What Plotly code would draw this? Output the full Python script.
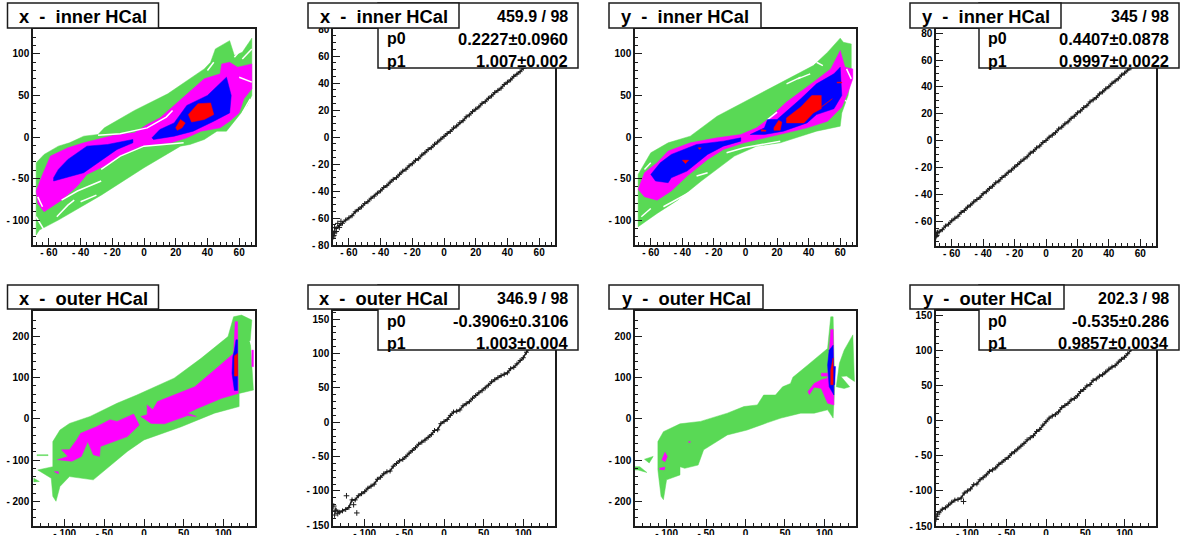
import plotly.graph_objects as go

W, H = 1188, 535
FONT = "Liberation Sans"
INK = "#1c1c1c"
GREEN, MAGENTA, BLUE, RED = "#59d955", "#ff00ff", "#0000ff", "#ff0000"

# ---------- contour regions (data units) ----------
A_GREEN = [[(-68,-31),(-63,-21),(-54,-11),(-47,-7),(-38,1),(-29,3),(-25,11),(-6,32),(15,52),(38,82),(42,90),(45,106),(54,116),(57,98),(62,102),(68,119),(68,86),(68,50),(65,38),(57,19),(52,7),(46,7),(38,-3),(29,-9),(23,-11),(0,-37),(-27,-70),(-54,-100),(-66,-112),(-68,-118)]]
A_MAGENTA = [[(-68,-65),(-64,-45),(-59,-23),(-48,-13),(-38,-7),(-27,-2),(-17,3),(-6,5),(2,15),(10,23),(19,38),(27,52),(38,70),(48,76),(49,88),(54,90),(59,84),(68,88),(68,58),(63,46),(60,29),(54,19),(48,11),(36,7),(27,-1),(17,-7),(8,-9),(-2,-11),(-13,-21),(-23,-33),(-36,-45),(-42,-59),(-52,-76),(-63,-90),(-67,-80)]]
A_BLUE = [[(-57,-49),(-54,-39),(-48,-27),(-36,-11),(-23,-9),(-7,-3),(-7,-7),(-17,-15),(-29,-31),(-38,-43),(-57,-53)],
          [(5,-1),(10,9),(19,17),(27,38),(40,50),(52,72),(55,50),(54,29),(44,19),(31,7),(19,1),(6,-3)]]
A_RED = [[(20,11),(23,21),(26,17),(24,11),(21,8)],
         [(28,27),(34,40),(42,41),(44,27),(38,21),(30,18)]]
A_WHITE = [[(-67,-72),(-64,-84)],[(-52,-76),(-42,-65),(-27,-53)],[(-55,-96),(-48,-82),(-44,-76)],
           [(-27,-39),(-15,-23),(0,-11),(25,-7)],[(-29,2),(-15,4),(2,11),(14,24),(18,32)],
           [(40,80),(44,90)],[(57,96),(66,116)],[(62,94),(68,106)],[(62,29),(67,46)],[(-68,-96),(-63,-112)],
           [(-40,-78),(-30,-70)],[(60,72),(68,66)]]

C_GREEN = [[(-68,-45),(-60,-19),(-49,-7),(-35,1),(-18,25),(3,46),(26,70),(43,86),(52,102),(60,119),(62,114),(67,112),(67,78),(65,50),(61,29),(60,13),(45,7),(35,1),(22,-7),(7,-11),(-7,-23),(-28,-53),(-43,-76),(-56,-92),(-68,-108)]]
C_MAGENTA = [[(-68,-63),(-64,-43),(-56,-31),(-49,-17),(-35,-7),(-18,-1),(-3,3),(7,11),(14,21),(26,42),(43,66),(54,82),(60,104),(63,84),(68,82),(68,70),(65,54),(61,36),(52,19),(39,11),(26,5),(12,-1),(-1,-7),(-14,-15),(-24,-27),(-37,-47),(-47,-65),(-56,-76),(-64,-72)]]
C_BLUE = [[(-60,-45),(-54,-31),(-47,-21),(-31,-9),(-14,-5),(-3,-1),(-3,-5),(-14,-11),(-24,-21),(-37,-41),(-47,-49),(-49,-55),(-57,-53)],
          [(3,3),(12,11),(14,21),(20,21),(35,46),(45,64),(56,76),(60,84),(61,50),(56,34),(45,27),(39,17),(24,7),(12,3)]]
C_RED = [[(26,23),(35,36),(42,50),(48,50),(48,34),(43,29),(37,17),(26,17)],[(48,36),(55,46),(49,38)],
         [(18,11),(21,20),(23,18),(22,8),(18,8)],[(-40,-28),(-36,-28),(-38,-32)],[(-30,-13),(-28,-13),(-29,-15)],
         [(10,9),(13,8),(13,7),(10,7)],[(58,66),(61,66),(61,65),(58,65)]]
C_WHITE = [[(14,21),(20,30)],[(33,70),(41,76)],[(45,90),(49,86)],[(26,64),(35,72)],[(-12,-19),(-1,-13),(22,-5)],
           [(-31,-47),(-24,-43)],[(-52,-84),(-28,-59)],[(-66,-96),(-60,-86)],[(64,82),(67,70)],[(63,44),(69,38)],[(-64,-39),(-60,-31)]]

E_GREEN = [[(-115,-55),(-106,-27),(-94,-11),(-68,6),(-34,38),(-9,58),(38,99),(72,147),(106,200),(113,248),(123,252),(136,240),(134,192),(138,70),(120,62),(120,30),(89,14),(47,-19),(0,-51),(-21,-79),(-64,-148),(-94,-140),(-106,-164),(-111,-200),(-115,-188),(-117,-144),(-134,-124),(-123,-120),(-115,-116)],
           [(-139,-144),(-132,-152),(-139,-153)],[(-135,-87),(-121,-87),(-121,-89),(-135,-89)]]
E_MAGENTA = [[(-109,-99),(-96,-91),(-104,-75),(-94,-75),(-85,-51),(-80,-35),(-60,-19),(-43,-2),(-34,-6),(-13,12),(-6,-15),(-21,-43),(-38,-55),(-55,-67),(-56,-91),(-64,-87),(-71,-55),(-79,-91),(-91,-103)],
             [(-4,6),(4,10),(4,34),(11,22),(17,42),(64,78),(94,127),(113,159),(115,236),(118,236),(119,62),(98,50),(68,26),(55,14),(66,6),(55,8),(26,-12),(9,-11)],
             [(-113,-128),(-108,-128),(-108,-133)],[(136,167),(138,167),(138,127),(136,127)]]
E_BLUE = [[(114,167),(116,192),(118,192),(118,69),(114,69),(111,111),(112,151)]]
E_RED = [[(114,153),(118,159),(118,104),(114,104)]]
E_WHITE = [[(134,190),(137,172)]]

G_GREEN = [[(-111,-55),(-104,-31),(-83,-12),(-57,-6),(-23,14),(-2,30),(15,34),(23,58),(38,58),(47,78),(57,86),(60,101),(79,131),(104,171),(108,248),(111,248),(113,78),(111,2),(104,22),(87,14),(70,14),(45,2),(28,-9),(2,-27),(-23,-39),(-53,-75),(-60,-112),(-77,-120),(-83,-116),(-83,-136),(-100,-148),(-104,-196),(-107,-188),(-111,-124)],
           [(115,78),(119,135),(125,167),(136,204),(138,91),(128,104),(121,103),(132,78),(125,74)],
           [(-128,-98),(-117,-91),(-122,-107)],[(-141,-116),(-134,-116),(-125,-130),(-136,-124),(-141,-124)]]
G_MAGENTA = [[(108,217),(111,217),(112,34),(104,38),(96,74),(87,77),(81,59),(79,66),(87,86),(96,95),(104,99)],
             [(96,111),(104,111),(104,104),(96,104)],[(-106,-99),(-102,-81),(-99,-91),(-102,-104)],
             [(-109,-120),(-102,-117),(-103,-124),(-109,-122)],[(-72,-55),(-70,-55),(-70,-57),(-72,-57)]]
G_BLUE = [[(106,167),(111,179),(112,58),(106,78),(104,131)],[(111,127),(114,127),(113,83),(111,83)]]
G_RED = [[(108,119),(111,148),(111,83),(108,83)]]

# ---------- profile points ----------
X_INNER = [-68,-66,-64,-62,-60,-58,-56,-54,-52,-50,-48,-46,-44,-42,-40,-38,-36,-34,-32,-30,-28,-26,-24,-22,-20,-18,-16,-14,-12,-10,-8,-6,-4,-2,0,2,4,6,8,10,12,14,16,18,20,22,24,26,28,30,32,34,36,38,40,42,44,46,48,50,52,54,56,58,60,62,64,66,68]
B_Y = [-67.8,-65.6,-63.9,-61.5,-59.9,-58.3,-55.4,-53.6,-51.8,-49.3,-47.9,-45.4,-43.8,-41.6,-39.9,-37.4,-36.0,-33.5,-31.4,-30.1,-27.6,-25.3,-23.9,-21.4,-19.8,-17.3,-16.1,-13.4,-11.6,-9.3,-7.9,-5.4,-3.7,-1.6,0.4,2.6,4.1,6.7,8.2,10.6,12.1,14.9,16.3,18.8,20.6,22.3,24.9,26.2,28.7,30.4,32.9,34.5,36.2,38.9,40.6,42.3,44.9,46.5,48.4,50.9,52.6,54.8,56.5,58.9,60.6,62.8,64.7,66.9,68.6]
B_START_X = [-70,-70,-69.5,-69,-69,-68,-67,-66,-65]
B_START_Y = [-74,-71,-73,-67,-71,-70,-64,-67,-62.5]
D_Y = [-67.4,-65.9,-63.2,-61.8,-59.3,-57.4,-55.9,-53.1,-51.7,-49.2,-47.6,-45.3,-43.5,-41.9,-39.2,-37.7,-35.3,-33.6,-31.1,-29.8,-27.2,-25.6,-23.3,-21.7,-19.4,-17.6,-15.2,-13.5,-11.8,-9.1,-7.7,-5.2,-3.8,-1.2,0.3,2.7,4.2,6.1,8.8,10.2,12.6,14.1,16.7,18.3,20.8,22.2,24.7,26.1,28.9,30.4,32.1,34.8,36.3,38.6,40.2,42.7,44.4,46.1,48.8,50.3,52.5,54.2,56.7,58.3,60.4,62.6,64.5,66.2,68.8]
D_START_X = [-70,-70,-69.5,-69]
D_START_Y = [-71,-68.5,-70,-68]

X_OUTER = [-136,-132,-128,-124,-120,-116,-112,-108,-104,-100,-96,-92,-88,-84,-80,-76,-72,-68,-64,-60,-56,-52,-48,-44,-40,-36,-32,-28,-24,-20,-16,-12,-8,-4,0,4,8,12,16,20,24,28,32,36,40,44,48,52,56,60,64,68,72,76,80,84,88,92,96,100,104,108,112]
F_Y = [-128,-131,-129,-127,-124,-113,-113,-107,-104,-101,-96,-93,-90,-83,-80,-75,-72,-71,-64,-60,-56,-54,-50,-45,-41,-37,-32,-29,-26,-22,-18,-12,-11,-2,1,4,10,15,16,18,24,27,30,35,39,43,46,50,54,59,62,65,68,70,72,78,80,85,90,94,102,108,112]
F_EXTRA_X = [-139,-138,-137,-134,-123,-110,-114]
F_EXTRA_Y = [-122,-135,-128,-133,-107,-132,-120]
H_Y = [-131,-126,-124,-120,-116,-113,-112,-110,-103,-100,-97,-91,-90,-84,-81,-77,-72,-70,-67,-62,-59,-55,-52,-47,-44,-40,-36,-32,-27,-24,-21,-15,-12,-6,-1,4,7,9,13,19,22,25,30,32,36,42,45,50,52,58,60,64,66,70,74,77,79,84,88,91,96,102,106]
H_EXTRA_X = [-140,-139,-138,-105]
H_EXTRA_Y = [-140,-136,-133,-115]

# ---------- labels ----------
TITLES = ["x - inner HCal","x - inner HCal","y - inner HCal","y - inner HCal",
          "x - outer HCal","x - outer HCal","y - outer HCal","y - outer HCal"]
CHI2 = {1:"459.9 / 98",3:"345 / 98",5:"346.9 / 98",7:"202.3 / 98"}
P0 = {1:"0.2227±0.0960",3:"0.4407±0.0878",5:"-0.3906±0.3106",7:"-0.535±0.286"}
P1 = {1:"1.007±0.002",3:"0.9997±0.0022",5:"1.003±0.004",7:"0.9857±0.0034"}

TICKS_X_IN = [-60,-40,-20,0,20,40,60]
TICKS_X_OUT = [-100,-50,0,50,100]
TICKS_Y_A = [-100,-50,0,50,100]
TICKS_Y_B = [-80,-60,-40,-20,0,20,40,60,80]
TICKS_Y_E = [-200,-100,0,100,200]
TICKS_Y_F = [-150,-100,-50,0,50,100,150]

# panel geometry in window pixels: left,right,top,bottom
PANELS = [
 dict(box=(33,255,29,245),  xr=(-70,70),  yr=(-130,130), xt=TICKS_X_IN,  yt=TICKS_Y_A, xm=4,  ym=10),
 dict(box=(333,555,29,245), xr=(-70,70),  yr=(-80,80),   xt=TICKS_X_IN,  yt=TICKS_Y_B, xm=4,  ym=5),
 dict(box=(635,856,29,245), xr=(-70,70),  yr=(-130,130), xt=TICKS_X_IN,  yt=TICKS_Y_A, xm=4,  ym=10),
 dict(box=(936,1156,29,246),xr=(-70,70),  yr=(-78,83),   xt=TICKS_X_IN,  yt=TICKS_Y_B, xm=4,  ym=5),
 dict(box=(33,255,311,526), xr=(-140,140),yr=(-260,262), xt=TICKS_X_OUT, yt=TICKS_Y_E, xm=10, ym=20),
 dict(box=(333,555,311,526),xr=(-140,140),yr=(-151,162), xt=TICKS_X_OUT, yt=TICKS_Y_F, xm=10, ym=10),
 dict(box=(635,856,311,526),xr=(-140,140),yr=(-260,262), xt=TICKS_X_OUT, yt=TICKS_Y_E, xm=10, ym=20),
 dict(box=(936,1156,311,526),xr=(-140,140),yr=(-150,157),xt=TICKS_X_OUT, yt=TICKS_Y_F, xm=10, ym=10),
]
TITLE_BOX = [(7.5,158.5,3,28),(308,459,3,28),(609,761,3,28),(910,1061,3,28),
             (7.5,158.5,285,309),(308,459,285,309),(609,763,285,309),(910,1064,285,309)]
STAT_BOX = {1:(378,578,3,68),3:(979,1179,3,68),5:(378,578,285,350),7:(979,1179,285,350)}

fig = go.Figure()

def regions(n, polys, color):
    for p in polys:
        xs = [a for a, _ in p] + [p[0][0]]
        ys = [b for _, b in p] + [p[0][1]]
        fig.add_trace(go.Scatter(x=xs, y=ys, mode="lines", fill="toself", fillcolor=color,
                                 line=dict(color=color, width=0.5), xaxis=f"x{n}", yaxis=f"y{n}",
                                 hoverinfo="skip", showlegend=False))

def tatters(n, lines):
    for p in lines:
        fig.add_trace(go.Scatter(x=[a for a, _ in p], y=[b for _, b in p], mode="lines",
                                 line=dict(color="white", width=1.5), xaxis=f"x{n}", yaxis=f"y{n}",
                                 hoverinfo="skip", showlegend=False))

def profile(n, x, y, ex, ey):
    fig.add_trace(go.Scatter(x=x, y=y, mode="lines+markers", line=dict(color=INK, width=1.6),
                             marker=dict(symbol="cross-thin", size=3.5, line=dict(color=INK, width=1)),
                             xaxis=f"x{n}", yaxis=f"y{n}", hoverinfo="skip", showlegend=False))
    fig.add_trace(go.Scatter(x=ex, y=ey, mode="markers",
                             marker=dict(symbol="cross-thin", size=4, line=dict(color=INK, width=1)),
                             xaxis=f"x{n}", yaxis=f"y{n}", hoverinfo="skip", showlegend=False))

regions(1, A_GREEN, GREEN); regions(1, A_MAGENTA, MAGENTA); tatters(1, A_WHITE); regions(1, A_BLUE, BLUE); regions(1, A_RED, RED)
regions(3, C_GREEN, GREEN); regions(3, C_MAGENTA, MAGENTA); tatters(3, C_WHITE); regions(3, C_BLUE, BLUE); regions(3, C_RED, RED)
regions(5, E_GREEN, GREEN); regions(5, E_MAGENTA, MAGENTA); tatters(5, E_WHITE); regions(5, E_BLUE, BLUE); regions(5, E_RED, RED)
regions(7, G_GREEN, GREEN); regions(7, G_MAGENTA, MAGENTA); regions(7, G_BLUE, BLUE); regions(7, G_RED, RED)
profile(2, X_INNER, B_Y, B_START_X, B_START_Y)
profile(4, X_INNER, D_Y, D_START_X, D_START_Y)
profile(6, X_OUTER, F_Y, F_EXTRA_X, F_EXTRA_Y)
profile(8, X_OUTER, H_Y, H_EXTRA_X, H_EXTRA_Y)

def label(v):
    return f"- {abs(v)}" if v < 0 else str(v)

layout = dict(width=W, height=H, margin=dict(l=0, r=0, t=0, b=0, autoexpand=False), paper_bgcolor="white",
              plot_bgcolor="white", showlegend=False, shapes=[], annotations=[])
axis_font = dict(family=FONT, size=10, color="black", weight="bold")
for i, p in enumerate(PANELS):
    n = i + 1
    l, r, t, b = p["box"]
    common = dict(showgrid=False, zeroline=False, showline=True, mirror=True, linecolor=INK, linewidth=1.5,
                  automargin=False, ticks="inside", ticklen=7, tickwidth=1.2, tickcolor=INK, tickfont=axis_font, tickmode="array")
    layout[f"xaxis{n}"] = dict(domain=[l/W, r/W], range=list(p["xr"]), anchor=f"y{n}", ticklabelstandoff=-3,
                               tickvals=p["xt"], ticktext=[label(v) for v in p["xt"]],
                               minor=dict(ticks="inside", ticklen=3.5, dtick=p["xm"], tick0=0, tickcolor=INK, tickwidth=1), **common)
    layout[f"yaxis{n}"] = dict(domain=[1-b/H, 1-t/H], range=list(p["yr"]), anchor=f"x{n}",
                               tickvals=p["yt"], ticktext=[label(v) for v in p["yt"]],
                               minor=dict(ticks="inside", ticklen=3.5, dtick=p["ym"], tick0=0, tickcolor=INK, tickwidth=1), **common)

def rect(box):
    l, r, t, b = box
    layout["shapes"].append(dict(type="rect", xref="paper", yref="paper", x0=l/W, x1=r/W, y0=1-b/H, y1=1-t/H,
                                 fillcolor="white", line=dict(color=INK, width=1.5), layer="above"))

def text(s, x, y, anchor, size):
    layout["annotations"].append(dict(text=s, xref="paper", yref="paper", x=x/W, y=1-y/H, xanchor=anchor,
                                      yanchor="middle", showarrow=False,
                                      font=dict(family=FONT, size=size, color="black", weight="bold")))

for i, title in enumerate(TITLES):
    if i in STAT_BOX:
        l, r, t, b = STAT_BOX[i]
        rect(STAT_BOX[i])
        ri = r - 8
        le = l + 7
        text(CHI2[i], ri, t + 13, "right", 16)
        text("p0", le, t + 36, "left", 16)
        text(P0[i], ri, t + 36, "right", 16.5)
        text("p1", le, t + 58, "left", 16)
        text(P1[i], ri, t + 58, "right", 16.5)
    rect(TITLE_BOX[i])
    l, r, t, b = TITLE_BOX[i]
    text(title.replace(" - ", "\u00a0\u00a0-\u00a0\u00a0"), (l + r) / 2, (t + b) / 2 + 1, "center", 18.3)

fig.update_layout(**layout)
fig.write_html("out.html", config=dict(displayModeBar=False), post_script="document.body.style.margin='0';")
